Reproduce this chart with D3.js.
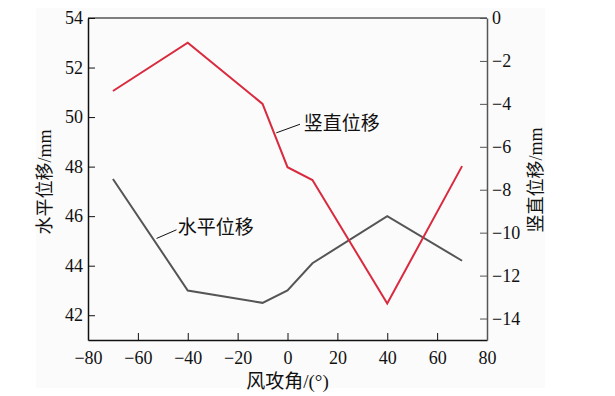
<!DOCTYPE html>
<html>
<head>
<meta charset="utf-8">
<script src="https://cdn.jsdelivr.net/npm/d3@7"></script>
<style>
body { margin: 0; background: #fff; }
text { font-family: "Liberation Serif", "Noto Sans CJK SC", serif; fill: #111; }
.cjk { font-family: "Noto Sans CJK SC", sans-serif; }
</style>
</head>
<body>
<div id="chart"></div>
<script>
var angles = [-70, -40, -10, 0, 10, 40, 70];
var horizontal = [47.5, 43.0, 42.5, 43.0, 44.1, 46.0, 44.2];
var vertical = [-3.4, -1.15, -4.0, -6.95, -7.55, -13.3, -6.9];
var xTicks = [-80, -60, -40, -20, 0, 20, 40, 60, 80];
var leftTicks = [42, 44, 46, 48, 50, 52, 54];
var rightTicks = [0, -2, -4, -6, -8, -10, -12, -14];

var svgWidth = 615;
var svgHeight = 396;
var margin = {top: 18, bottom: 56, left: 88, right: 128};
var chartWidth = svgWidth - margin.left - margin.right;
var chartHeight = svgHeight - margin.top - margin.bottom;

var svg = d3.select('#chart')
    .append('svg')
    .attr('width', svgWidth)
    .attr('height', svgHeight);

// faint panel background
svg.append('rect')
    .attr('x', 36).attr('y', 8)
    .attr('width', 509).attr('height', 380)
    .attr('fill', '#fbfbfb');

var chartGroup = svg.append('g')
    .attr('transform', `translate(${margin.left},${margin.top})`);

var xScale = d3.scaleLinear().domain([-80, 80]).range([0, chartWidth]);
var yLeft = d3.scaleLinear().domain([41, 54]).range([chartHeight, 0]);
var yRight = d3.scaleLinear().domain([-15, 0]).range([chartHeight, 0]);

// top frame line
chartGroup.append('line')
    .attr('x1', 0).attr('x2', chartWidth)
    .attr('y1', 0).attr('y2', 0)
    .attr('stroke', '#555').attr('stroke-width', 1.5);

function styleAxis(g, color) {
    g.select('.domain').attr('stroke', color).attr('stroke-width', 1.5);
    g.selectAll('.tick line').attr('stroke', color).attr('stroke-width', 1);
    g.selectAll('.tick text')
        .attr('font-size', '18px')
        .style('font-family', '"Liberation Serif", serif')
        .attr('fill', '#111');
}

var fmt = d => d < 0 ? '\u2212' + Math.abs(d) : String(d);

var xAxis = chartGroup.append('g')
    .attr('transform', `translate(0,${chartHeight})`)
    .call(d3.axisBottom(xScale).tickValues(xTicks).tickFormat(fmt)
        .tickSizeInner(-7).tickSizeOuter(0).tickPadding(11));
styleAxis(xAxis, '#111');

var leftAxis = chartGroup.append('g')
    .call(d3.axisLeft(yLeft).tickValues(leftTicks).tickFormat(fmt)
        .tickSizeInner(-7).tickSizeOuter(0).tickPadding(6));
styleAxis(leftAxis, '#111');
leftAxis.selectAll('.tick text').attr('x', -5);

var rightAxis = chartGroup.append('g')
    .attr('transform', `translate(${chartWidth},0)`)
    .call(d3.axisRight(yRight).tickValues(rightTicks).tickFormat(fmt)
        .tickSizeInner(-7).tickSizeOuter(0).tickPadding(6));
styleAxis(rightAxis, '#555');
rightAxis.selectAll('.tick text').attr('x', 5);

// lines
var hLine = d3.line()
    .x((d, i) => xScale(angles[i]))
    .y(d => yLeft(d));
var vLine = d3.line()
    .x((d, i) => xScale(angles[i]))
    .y(d => yRight(d));

chartGroup.append('path')
    .datum(horizontal)
    .attr('d', hLine)
    .attr('fill', 'none')
    .attr('stroke', '#555')
    .attr('stroke-width', 2);

chartGroup.append('path')
    .datum(vertical)
    .attr('d', vLine)
    .attr('fill', 'none')
    .attr('stroke', '#d92a3e')
    .attr('stroke-width', 2);

// annotation leaders
chartGroup.append('line')
    .attr('x1', xScale(-52.5)).attr('y1', yLeft(45.1))
    .attr('x2', xScale(-44.5)).attr('y2', yLeft(45.45))
    .attr('stroke', '#111').attr('stroke-width', 1);
chartGroup.append('text')
    .attr('class', 'cjk')
    .attr('x', xScale(-44)).attr('y', yLeft(45.55) + 7)
    .attr('font-size', '19px')
    .text('水平位移');

chartGroup.append('line')
    .attr('x1', xScale(-4.5)).attr('y1', yRight(-5.35))
    .attr('x2', xScale(5)).attr('y2', yRight(-4.95))
    .attr('stroke', '#111').attr('stroke-width', 1);
chartGroup.append('text')
    .attr('class', 'cjk')
    .attr('x', xScale(6.5)).attr('y', yRight(-4.9) + 7)
    .attr('font-size', '19px')
    .text('竖直位移');

// axis titles
svg.append('text')
    .attr('transform', 'translate(51,182) rotate(-90)')
    .attr('text-anchor', 'middle')
    .attr('font-size', '18px')
    .html('<tspan class="cjk">水平位移</tspan>/mm');

svg.append('text')
    .attr('transform', 'translate(542,180) rotate(-90)')
    .attr('text-anchor', 'middle')
    .attr('font-size', '18px')
    .html('<tspan class="cjk">竖直位移</tspan>/mm');

svg.append('text')
    .attr('x', margin.left + xScale(0))
    .attr('y', 388)
    .attr('text-anchor', 'middle')
    .attr('font-size', '19px')
    .html('<tspan class="cjk">风攻角</tspan>/(°)');
</script>
</body>
</html>
